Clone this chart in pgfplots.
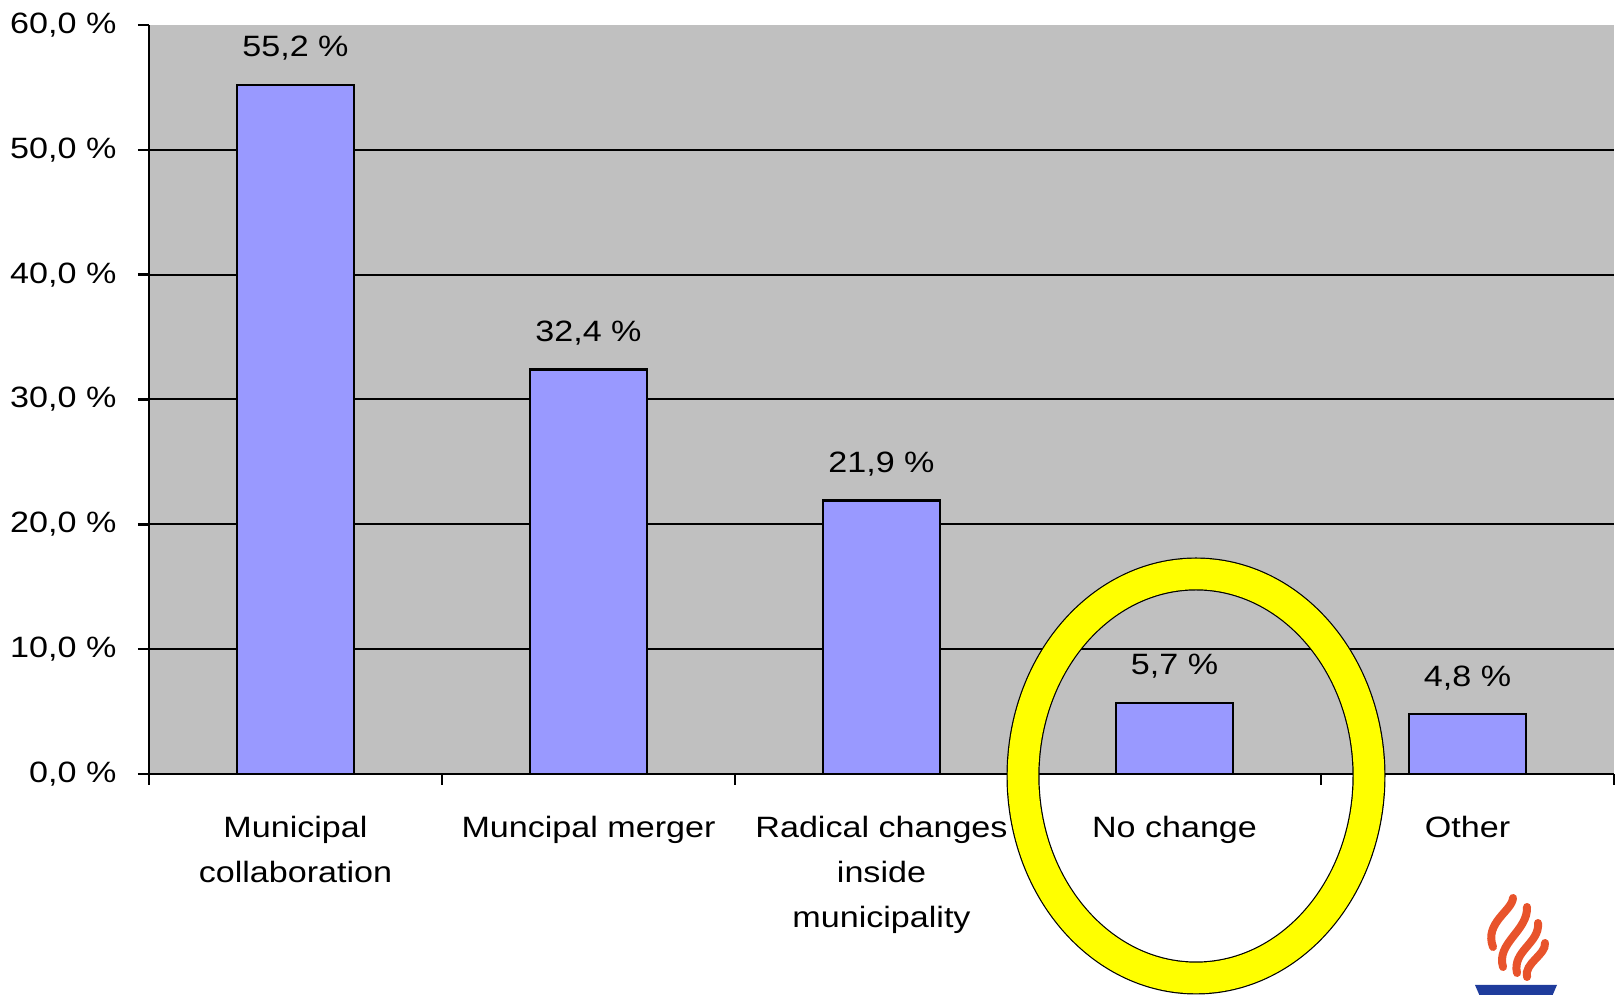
\documentclass[border=0pt]{standalone}
\usepackage{pgfplots}
\pgfplotsset{compat=1.18}
\usepackage{fontspec}
\setmainfont{Liberation Sans}[FakeStretch=1.16]
\definecolor{plotbg}{HTML}{C0C0C0}
\definecolor{barfill}{HTML}{9999FF}
\definecolor{ringyellow}{HTML}{FFFF00}
\definecolor{flame}{HTML}{E8532B}
\definecolor{bowl}{HTML}{1F3C9C}
\begin{document}
\fontsize{14.7}{22.5}\selectfont
\begin{tikzpicture}
\useasboundingbox (0pt,0pt) rectangle (809.5pt,497.5pt);
\begin{axis}[
  at={(74.5pt,110.5pt)}, anchor=south west,
  scale only axis, width=732.5pt, height=374.5pt,
  xmin=-0.5, xmax=4.5, ymin=0, ymax=60,
  axis background/.style={fill=plotbg},
  axis x line=bottom, axis y line=left,
  axis line style={-, black, line width=1.4pt},
  ybar, bar width=0.4,
  ytick={0,10,...,60},
  yticklabel={\pgfmathprintnumber{\tick}\ \%},
  /pgf/number format/fixed,
  /pgf/number format/fixed zerofill,
  /pgf/number format/precision=1,
  /pgf/number format/use comma,
  /pgf/number format/assume math mode=true,
  extra y ticks={10,20,30,40,50},
  extra y tick labels={},
  extra y tick style={grid=major, major tick length=0pt},
  major grid style={black, line width=1pt},
  xtick={0,...,4},
  xticklabels={{Municipal\\collaboration},{Muncipal merger},{Radical changes\\inside\\municipality},{No change},{Other}},
  xticklabel style={align=center, yshift=-10.3pt, font=\fontsize{14.7}{22.5}\selectfont},
  yticklabel style={xshift=-5.7pt, font=\fontsize{14.7}{22.5}\selectfont},
  minor xtick={-0.5,0.5,...,4.5},
  tick align=outside,
  major tick length=5.5pt, minor tick length=5.5pt,
  major x tick style={draw=none},
  tick style={black, line width=1.2pt},
  nodes near coords={\pgfmathprintnumber{\pgfplotspointmeta}\ \%},
  every node near coord/.append style={anchor=base, yshift=14pt, font=\fontsize{14.7}{22.5}\selectfont},
  clip=false,
]
\addplot[fill=barfill, draw=black, line width=1.3pt] coordinates {(0,55.2) (1,32.4) (2,21.9) (3,5.7) (4,4.8)};
\end{axis}
% highlight ring
\draw[black, line width=16.5pt] (598pt,109.5pt) ellipse [x radius=86.5pt, y radius=101pt];
\draw[ringyellow, line width=15.3pt] (598pt,109.5pt) ellipse [x radius=86.5pt, y radius=101pt];
% logo (approximate)
\fill[bowl] (737.5pt,5pt) -- (778.5pt,5pt) -- (772pt,-10pt) -- (744pt,-10pt) -- cycle;
\begin{scope}[flame, line width=4pt, line cap=round]
\draw (746.5pt,24pt) .. controls (742pt,36pt) and (756pt,42pt) .. (756.5pt,48.5pt);
\draw (751.5pt,14pt) .. controls (748pt,26pt) and (764pt,32pt) .. (763.5pt,44pt);
\draw (758.5pt,11pt) .. controls (756pt,22pt) and (770pt,26pt) .. (769pt,36pt);
\draw (763.5pt,9pt) .. controls (762pt,16pt) and (773pt,20pt) .. (772.5pt,26pt);
\end{scope}
\end{tikzpicture}
\end{document}
